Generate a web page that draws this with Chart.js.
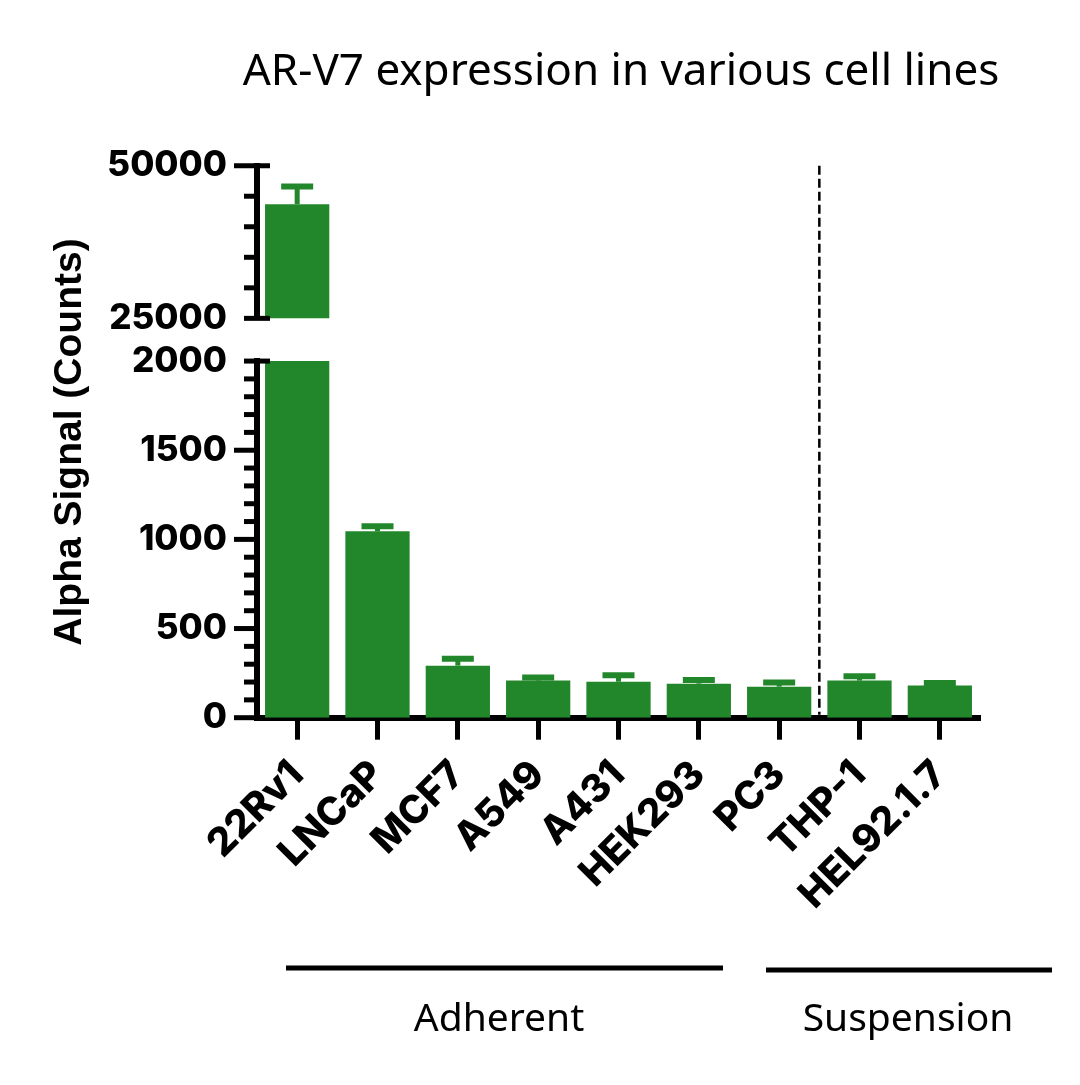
<!DOCTYPE html>
<html lang="en">
<head>
<meta charset="UTF-8">
<title>AR-V7 expression in various cell lines</title>
<script src="https://cdn.jsdelivr.net/npm/chart.js"></script>
<style>
    body, html { margin: 0; padding: 0; background: #fff; }
    #wrap { position: relative; width: 1080px; height: 1085px; }
    canvas { display: block; }
</style>
</head>
<body>
<div id="wrap"><canvas id="arv7Chart" width="1080" height="1085"></canvas></div>
<script>
// data
const cellLines = ['22Rv1', 'LNCaP', 'MCF7', 'A549', 'A431', 'HEK293', 'PC3', 'THP-1', 'HEL92.1.7'];
const signal = [43700, 1045, 292, 208, 202, 191, 174, 208, 180];
const signalErr = [2900, 28, 38, 18, 36, 21, 24, 24, 15];
const lowTicks = [0, 500, 1000, 1500, 2000];
const highTicks = [25000, 50000];
const groups = ['Adherent', 'Suspension'];

const lowMax = 2000, highMin = 25000, highMax = 50000;
const green = '#22862B';
const boldFont = 'Inter, "Liberation Sans", sans-serif';
const helvFont = '"Liberation Sans", Arial, sans-serif';
const thinFont = '"Noto Sans", sans-serif';

// minor ticks, break caps, error bars, titles and groups
const decor = {
    id: 'decor',
    afterDatasetsDraw(chart) {
        const ctx = chart.ctx;
        const xs = chart.scales.x;
        ctx.save();
        ctx.strokeStyle = green;
        ctx.lineCap = 'butt';
        signal.forEach((v, i) => {
            const s = v > lowMax ? chart.scales.yHigh : chart.scales.y;
            const px = xs.getPixelForValue(i);
            const pTop = s.getPixelForValue(v + signalErr[i]);
            const pVal = s.getPixelForValue(v);
            ctx.lineWidth = 5;
            ctx.beginPath();
            ctx.moveTo(px, pVal);
            ctx.lineTo(px, pTop);
            ctx.stroke();
            ctx.lineWidth = 6;
            ctx.beginPath();
            ctx.moveTo(px - 16, pTop);
            ctx.lineTo(px + 16, pTop);
            ctx.stroke();
        });
        ctx.restore();
    },
    afterDraw(chart) {
        const ctx = chart.ctx;
        const area = chart.chartArea;
        const x0 = area.left;
        const xs = chart.scales.x;
        ctx.save();
        ctx.strokeStyle = '#000';
        ctx.lineCap = 'butt';
        ctx.lineWidth = 5;
        const axes = [
            { s: chart.scales.yHigh, minor: 5000, majors: highTicks },
            { s: chart.scales.y, minor: 100, majors: lowTicks }
        ];
        axes.forEach(a => {
            for (let v = a.s.min; v <= a.s.max + 1e-6; v += a.minor) {
                const py = a.s.getPixelForValue(v);
                const isBreak = (v === lowMax || v === highMin);
                const isMajor = a.majors.includes(v) && !isBreak;
                ctx.beginPath();
                ctx.moveTo(x0 - (isMajor ? 23 : 13), py);
                ctx.lineTo(x0 + (isBreak || v === highMax ? 13 : 0), py);
                ctx.stroke();
            }
        });

        // dashed divider between adherent and suspension lines
        const xd = (xs.getPixelForValue(6) + xs.getPixelForValue(7)) / 2;
        ctx.lineWidth = 2.5;
        ctx.setLineDash([9, 4]);
        ctx.beginPath();
        ctx.moveTo(xd, area.top);
        ctx.lineTo(xd, area.bottom - 3);
        ctx.stroke();
        ctx.setLineDash([]);

        // title
        ctx.fillStyle = '#000';
        ctx.textAlign = 'center';
        ctx.textBaseline = 'middle';
        ctx.font = '44px ' + thinFont;
        ctx.fillText('AR-V7 expression in various cell lines', 621, 72);

        // y axis title
        ctx.save();
        ctx.translate(70, 442);
        ctx.rotate(-Math.PI / 2);
        ctx.font = 'bold 39px ' + helvFont;
        ctx.fillText('Alpha Signal (Counts)', 0, 0);
        ctx.restore();

        // group brackets
        ctx.lineWidth = 5;
        ctx.beginPath();
        ctx.moveTo(286, 968);
        ctx.lineTo(723, 968);
        ctx.moveTo(766, 970);
        ctx.lineTo(1052, 970);
        ctx.stroke();
        ctx.font = '39px ' + thinFont;
        ctx.fillText(groups[0], 499, 1020);
        ctx.fillText(groups[1], 908, 1020);
        ctx.restore();
    }
};

const tickFont = { family: boldFont, size: 35, weight: 800 };
const catFont = { family: boldFont, size: 39, weight: 800 };

const ctx = document.getElementById('arv7Chart').getContext('2d');
const arv7Chart = new Chart(ctx, {
    type: 'bar',
    data: {
        labels: cellLines,
        datasets: [
            {
                label: 'low',
                data: signal.map(v => Math.min(v, lowMax)),
                yAxisID: 'y',
                backgroundColor: green,
                grouped: false,
                categoryPercentage: 1,
                barPercentage: 0.8
            },
            {
                label: 'high',
                data: signal.map(v => v > lowMax ? v : null),
                yAxisID: 'yHigh',
                backgroundColor: green,
                grouped: false,
                categoryPercentage: 1,
                barPercentage: 0.8
            }
        ]
    },
    options: {
        responsive: false,
        animation: false,
        events: [],
        layout: { padding: { left: 0, right: 100, top: 165.7, bottom: 167.3 } },
        plugins: { legend: { display: false }, tooltip: { enabled: false } },
        scales: {
            x: {
                type: 'category',
                offset: true,
                z: 1,
                grid: { display: true, drawOnChartArea: false, drawTicks: true, tickLength: 22, tickWidth: 5, tickColor: '#000', offset: false },
                border: { display: true, width: 6, color: '#000' },
                ticks: {
                    autoSkip: false, maxRotation: 45, minRotation: 45, padding: 12,
                    color: '#000', font: catFont
                },
                afterFit: s => { s.height = 200; }
            },
            y: {
                type: 'linear',
                position: 'left',
                stack: 'v',
                stackWeight: 356.5,
                min: 0, max: lowMax,
                z: 1,
                grid: { display: false, drawTicks: false },
                border: { display: true, width: 6, color: '#000' },
                ticks: {
                    stepSize: 500, padding: 30, color: '#000', font: tickFont,
                    callback: v => String(v)
                },
                afterFit: s => { s.width = 257; }
            },
            yGap: {
                type: 'linear',
                position: 'left',
                stack: 'v',
                stackWeight: 42.7,
                display: false,
                afterFit: s => { s.width = 257; }
            },
            yHigh: {
                type: 'linear',
                position: 'left',
                stack: 'v',
                stackWeight: 152.6,
                min: highMin, max: highMax,
                z: 1,
                grid: { display: false, drawTicks: false },
                border: { display: true, width: 6, color: '#000' },
                ticks: {
                    stepSize: 25000, padding: 30, color: '#000', font: tickFont,
                    callback: v => String(v)
                },
                afterFit: s => { s.width = 257; }
            }
        }
    },
    plugins: [decor]
});
</script>
</body>
</html>
